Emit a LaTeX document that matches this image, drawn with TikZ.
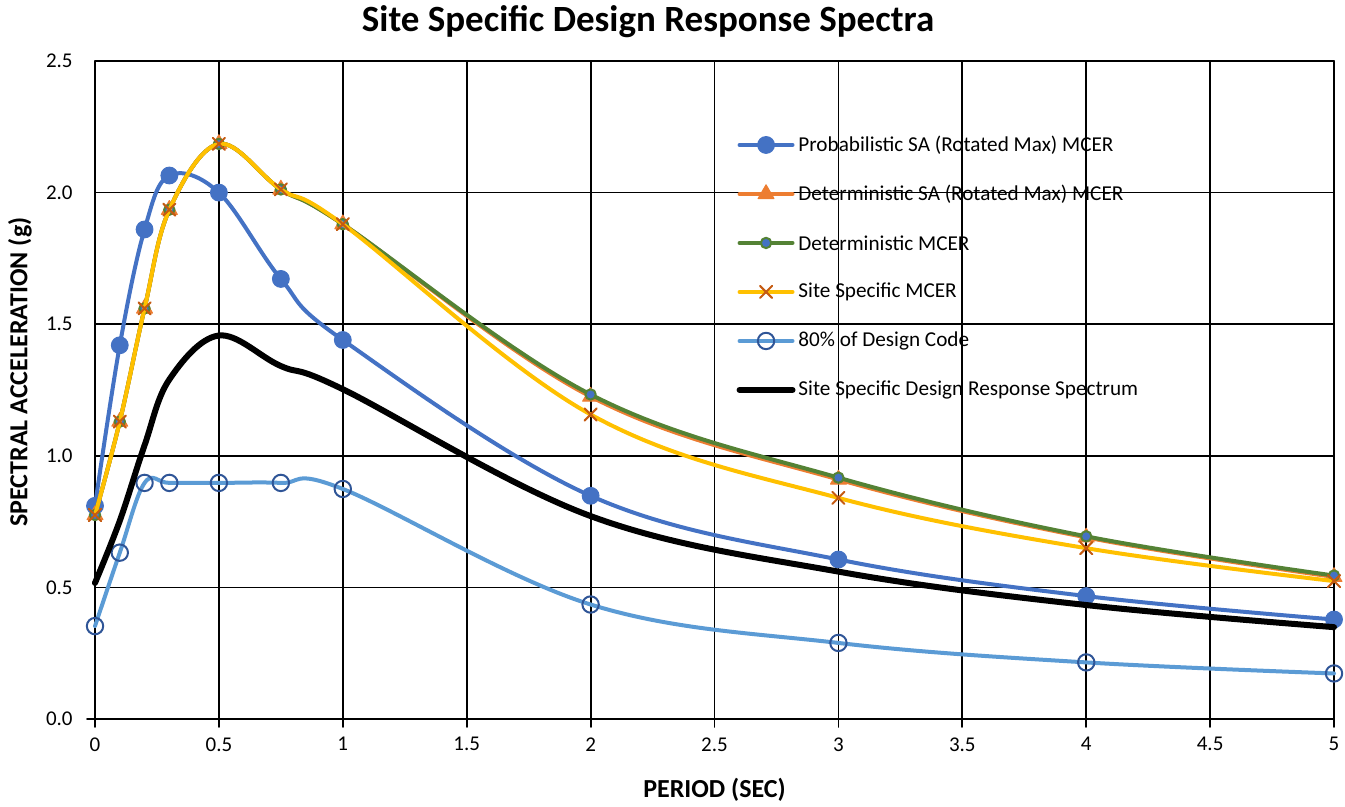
\documentclass[tikz,border=0pt]{standalone}
\usepackage{fontspec}
\setmainfont{Carlito}
\usetikzlibrary{positioning,plotmarks}

\definecolor{probblue}{HTML}{4472C4}
\definecolor{detorange}{HTML}{ED7D31}
\definecolor{detgreen}{HTML}{548235}
\definecolor{ssyellow}{HTML}{FFC000}
\definecolor{crossorange}{HTML}{C55A11}
\definecolor{codeblue}{HTML}{5B9BD5}
\definecolor{ringblue}{HTML}{2F5597}

\begin{document}
\begin{tikzpicture}[x=123.9pt, y=131.6pt, line cap=round, line join=round]
                \tikzstyle{gridline} = [black, line width=0.9pt]
                \tikzstyle{xtick} = [inner sep=0pt, below=9pt, font=\fontsize{10.5}{12}\selectfont]
                \tikzstyle{ytick} = [inner sep=0pt, left=11pt, font=\fontsize{10.5}{12}\selectfont]
                \tikzstyle{axistitle} = [inner sep=0pt, font=\fontsize{13}{15}\selectfont\bfseries]
                \tikzstyle{legtext} = [inner sep=0pt, font=\fontsize{10.6}{12}\selectfont]
                \tikzstyle{probline} = [probblue, line width=2pt]
                \tikzstyle{dsaline} = [detorange, line width=2pt]
                \tikzstyle{dmcerline} = [detgreen, line width=2pt]
                \tikzstyle{ssline} = [ssyellow, line width=2pt]
                \tikzstyle{codeline} = [codeblue, line width=2pt]
                \tikzstyle{designline} = [black, line width=3pt]
                \tikzstyle{probmark} = [mark=*, mark size=4.2pt, mark options={fill=probblue, draw=probblue, line width=0.5pt}]
                \tikzstyle{dsamark} = [mark=triangle*, mark size=4.6pt, mark options={fill=detorange, draw=detorange, line width=0.5pt}]
                \tikzstyle{dmcermark} = [mark=*, mark size=2.6pt, mark options={fill=probblue, draw=detgreen, line width=1pt}]
                \tikzstyle{ssmark} = [mark=x, mark size=4.3pt, mark options={draw=crossorange, line width=1pt}]
                \tikzstyle{codemark} = [mark=o, mark size=4.1pt, mark options={draw=ringblue, line width=1pt}]

                \useasboundingbox (-0.3834,-0.3343) rectangle (5.0444,2.7318);

                % Vertical grid lines, with ticks below the axis
                \draw[gridline] (0,-4pt) -- (0,2.5);
                \draw[gridline] (0.5,-4pt) -- (0.5,2.5);
                \draw[gridline] (1,-4pt) -- (1,2.5);
                \draw[gridline] (1.5,-4pt) -- (1.5,2.5);
                \draw[gridline] (2,-4pt) -- (2,2.5);
                \draw[gridline] (2.5,-4pt) -- (2.5,2.5);
                \draw[gridline] (3,-4pt) -- (3,2.5);
                \draw[gridline] (3.5,-4pt) -- (3.5,2.5);
                \draw[gridline] (4,-4pt) -- (4,2.5);
                \draw[gridline] (4.5,-4pt) -- (4.5,2.5);
                \draw[gridline] (5,-4pt) -- (5,2.5);

                % Horizontal grid lines
                \draw[gridline] (-4pt,0) -- (5,0);
                \draw[gridline] (0,0.5) -- (5,0.5);
                \draw[gridline] (0,1) -- (5,1);
                \draw[gridline] (0,1.5) -- (5,1.5);
                \draw[gridline] (0,2) -- (5,2);
                \draw[gridline] (0,2.5) -- (5,2.5);

                % Period labels
                \node[xtick] (x0) at (0,0) {0};
                \node[xtick] (x1) at (0.5,0) {0.5};
                \node[xtick] (x2) at (1,0) {1};
                \node[xtick] (x3) at (1.5,0) {1.5};
                \node[xtick] (x4) at (2,0) {2};
                \node[xtick] (x5) at (2.5,0) {2.5};
                \node[xtick] (x6) at (3,0) {3};
                \node[xtick] (x7) at (3.5,0) {3.5};
                \node[xtick] (x8) at (4,0) {4};
                \node[xtick] (x9) at (4.5,0) {4.5};
                \node[xtick] (x10) at (5,0) {5};

                % Acceleration labels
                \node[ytick] (y0) at (0,0) {0.0};
                \node[ytick] (y1) at (0,0.5) {0.5};
                \node[ytick] (y2) at (0,1) {1.0};
                \node[ytick] (y3) at (0,1.5) {1.5};
                \node[ytick] (y4) at (0,2) {2.0};
                \node[ytick] (y5) at (0,2.5) {2.5};

                % Titles
                \node[axistitle, font=\fontsize{18.5}{21}\selectfont\bfseries] (title) at (2.232,2.648) {Site Specific Design Response Spectra};
                \node[axistitle] (xtitle) at (2.5,-0.27) {PERIOD (SEC)};
                \node[axistitle, rotate=90] (ytitle) at (-0.3027,1.318) {SPECTRAL ACCELERATION (g)};

                % Spectra
                \draw[probline, probmark] plot[smooth, tension=0.6] coordinates {(0,0.81) (0.1,1.42) (0.2,1.86) (0.3,2.065) (0.5,2.0) (0.75,1.672) (1,1.44) (2,0.848) (3,0.606) (4,0.467) (5,0.378)};
                \draw[dsaline, dsamark] plot[smooth, tension=0.6] coordinates {(0,0.775) (0.1,1.13) (0.2,1.56) (0.3,1.935) (0.5,2.185) (0.75,2.012) (1,1.88) (2,1.225) (3,0.91) (4,0.69) (5,0.54)};
                \draw[dmcerline, dmcermark] plot[smooth, tension=0.6] coordinates {(0,0.775) (0.1,1.13) (0.2,1.56) (0.3,1.935) (0.5,2.185) (0.75,2.012) (1,1.88) (2,1.233) (3,0.917) (4,0.694) (5,0.545)};
                \draw[ssline, ssmark] plot[smooth, tension=0.6] coordinates {(0,0.775) (0.1,1.13) (0.2,1.56) (0.3,1.935) (0.5,2.185) (0.75,2.012) (1,1.88) (2,1.157) (3,0.84) (4,0.649) (5,0.524)};
                \draw[codeline, codemark] plot[smooth, tension=0.6] coordinates {(0,0.353) (0.1,0.632) (0.2,0.897) (0.3,0.897) (0.5,0.897) (0.75,0.897) (1,0.874) (2,0.435) (3,0.289) (4,0.215) (5,0.173)};
                \draw[designline] plot[smooth, tension=0.6] coordinates {(0,0.517) (0.1,0.753) (0.2,1.04) (0.3,1.29) (0.5,1.457) (0.75,1.341) (1,1.253) (2,0.771) (3,0.56) (4,0.433) (5,0.349)};

                % Legend
                \coordinate (lg1) at (2.708,2.181);
                \coordinate[below=24.5pt of lg1] (lg2);
                \coordinate[below=24.5pt of lg2] (lg3);
                \coordinate[below=24.5pt of lg3] (lg4);
                \coordinate[below=24.5pt of lg4] (lg5);
                \coordinate[below=24.5pt of lg5] (lg6);

                \draw[probline, probmark, mark indices={2}] plot coordinates {([xshift=-13.25pt]lg1) (lg1) ([xshift=13.25pt]lg1)};
                \draw[dsaline, dsamark, mark indices={2}] plot coordinates {([xshift=-13.25pt]lg2) (lg2) ([xshift=13.25pt]lg2)};
                \draw[dmcerline, dmcermark, mark indices={2}] plot coordinates {([xshift=-13.25pt]lg3) (lg3) ([xshift=13.25pt]lg3)};
                \draw[ssline, ssmark, mark indices={2}] plot coordinates {([xshift=-13.25pt]lg4) (lg4) ([xshift=13.25pt]lg4)};
                \draw[codeline, codemark, mark indices={2}] plot coordinates {([xshift=-13.25pt]lg5) (lg5) ([xshift=13.25pt]lg5)};
                \draw[designline] ([xshift=-13.25pt]lg6) -- ([xshift=13.25pt]lg6);

                \node[legtext, right=16pt of lg1] (leg1) {Probabilistic SA (Rotated Max) MCER};
                \node[legtext, right=16pt of lg2] (leg2) {Deterministic SA (Rotated Max) MCER};
                \node[legtext, right=16pt of lg3] (leg3) {Deterministic MCER};
                \node[legtext, right=16pt of lg4] (leg4) {Site Specific MCER};
                \node[legtext, right=16pt of lg5] (leg5) {80\% of Design Code};
                \node[legtext, right=16pt of lg6] (leg6) {Site Specific Design Response Spectrum};
            \end{tikzpicture}
\end{document}
